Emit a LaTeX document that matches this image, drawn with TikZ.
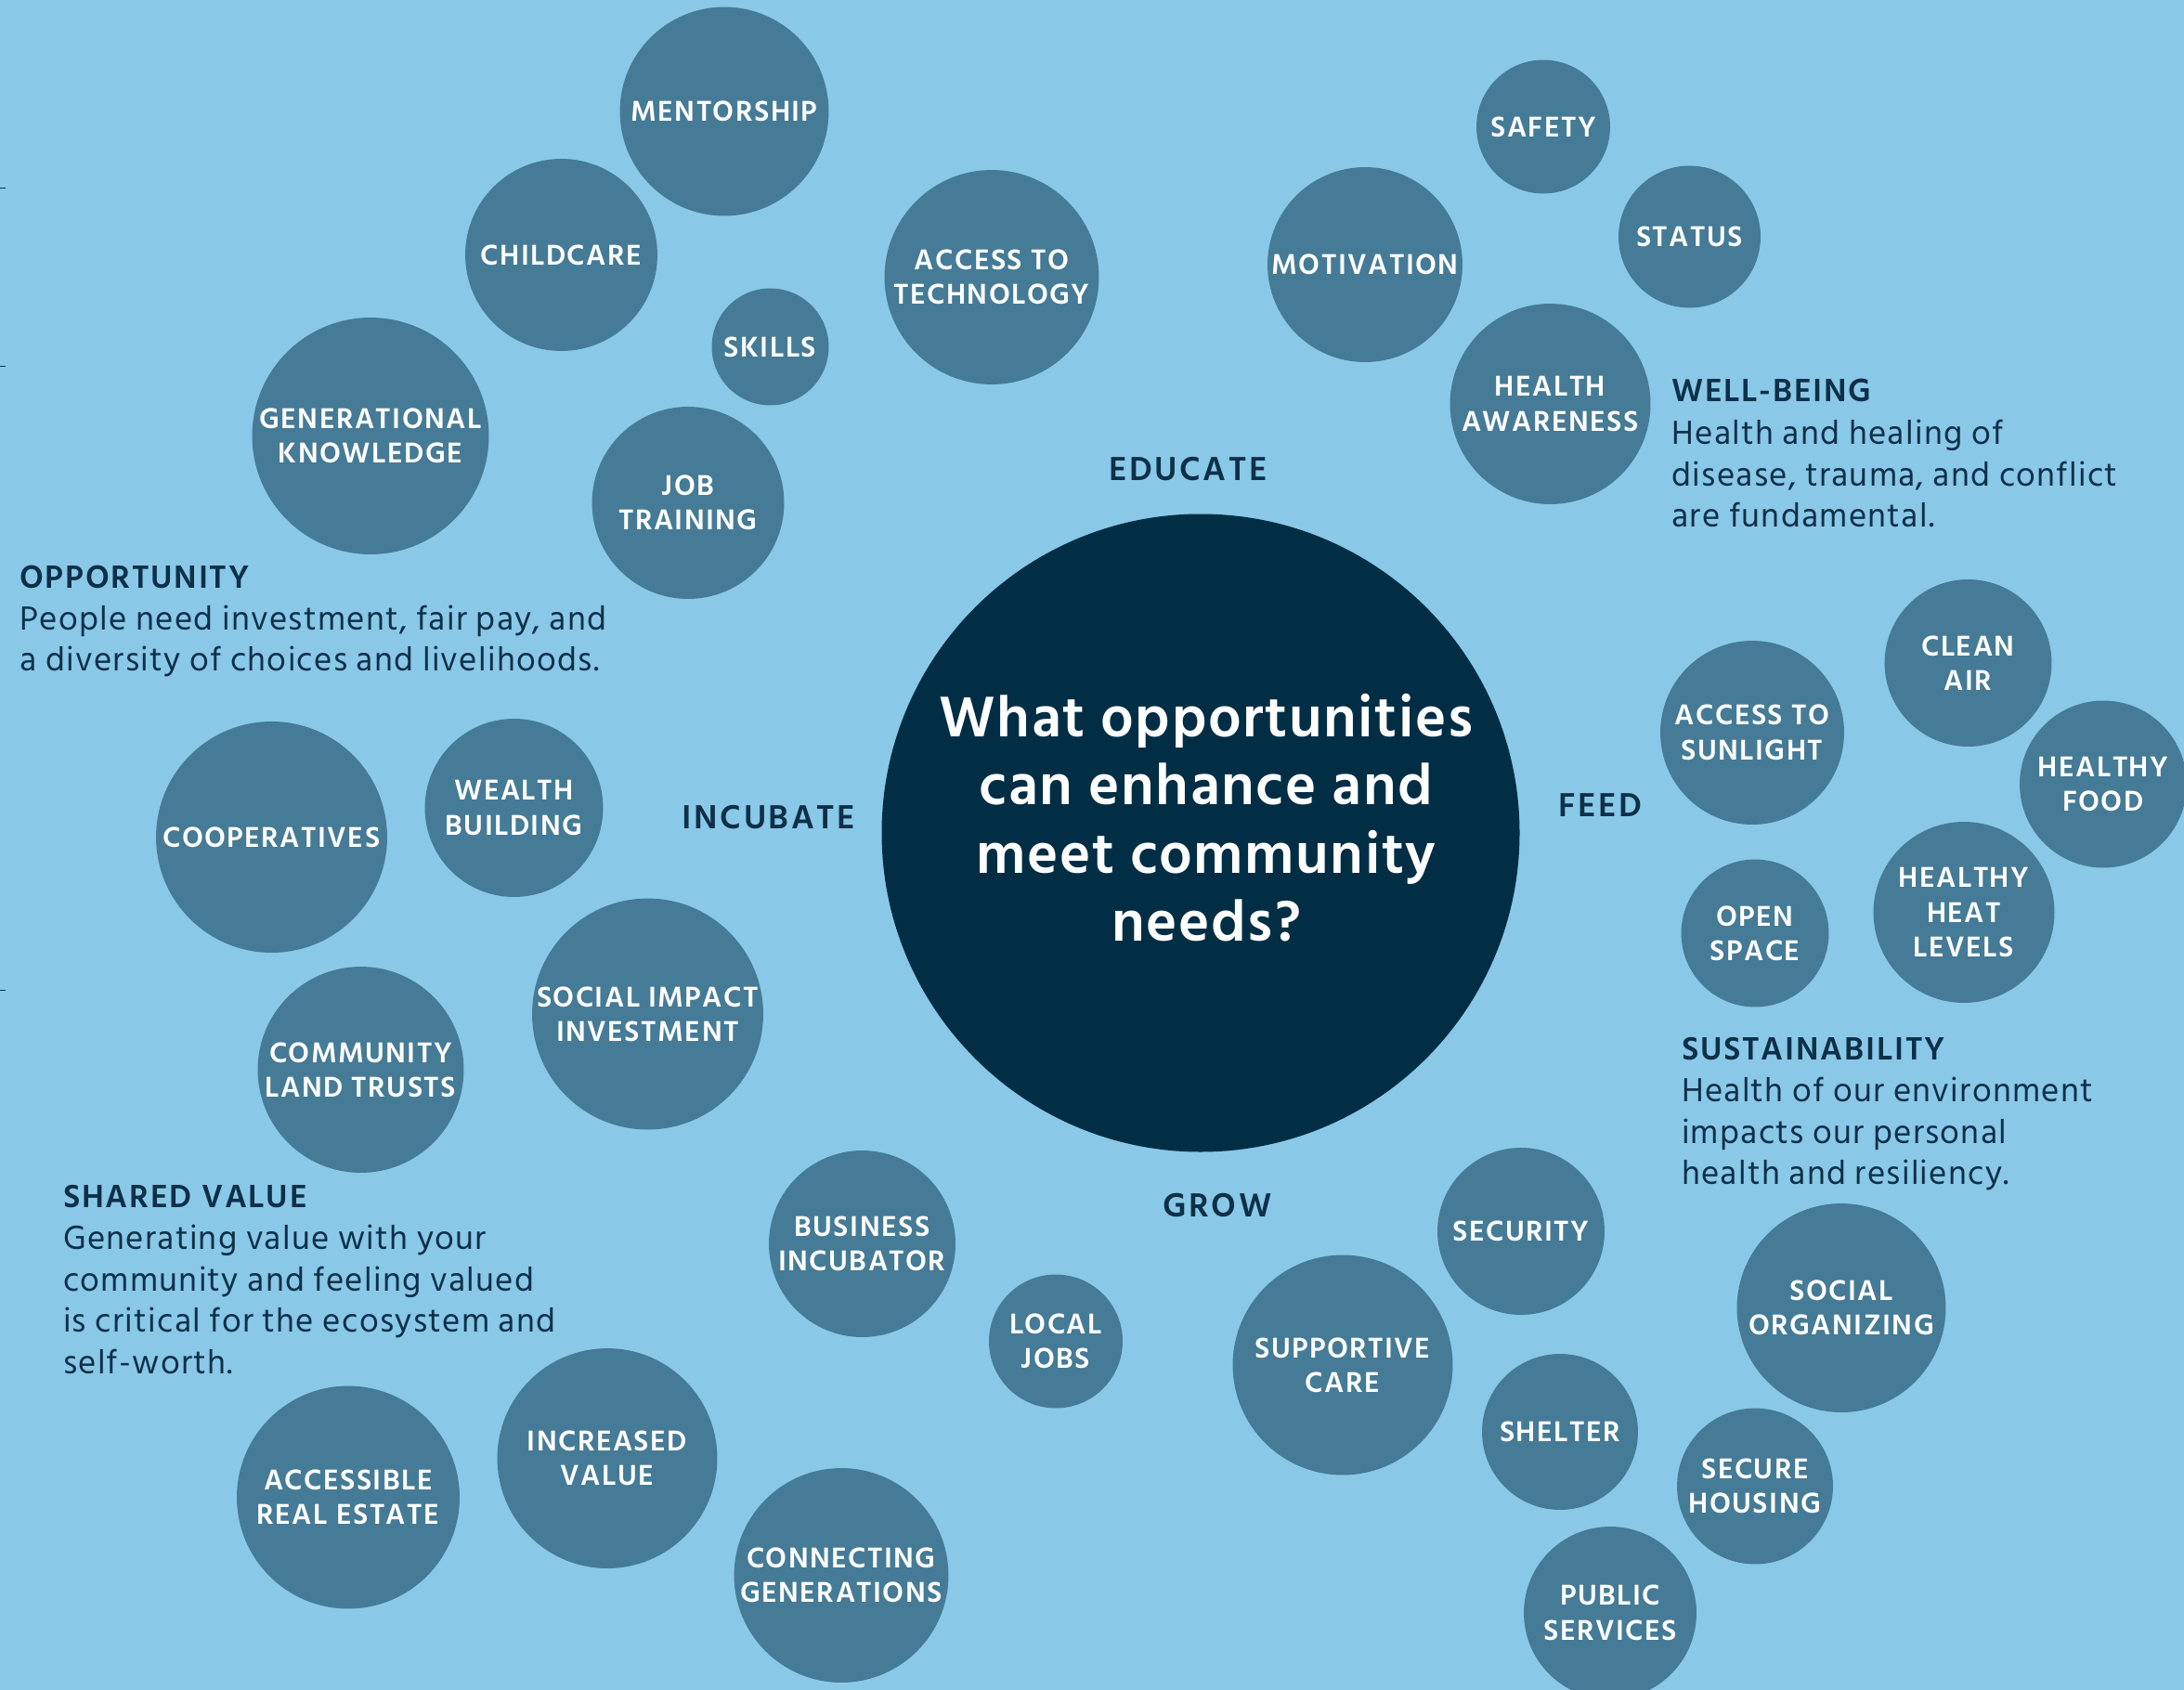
\documentclass[tikz,border=0pt]{standalone}
\usepackage{fontspec}
\setmainfont{Hind Siliguri}[BoldFont={Hind Siliguri SemiBold}]
\newfontfamily\bubblefont{Hind Siliguri SemiBold}[LetterSpace=4.5]
\newfontfamily\ringfont{Hind Siliguri SemiBold}[LetterSpace=7]
\newfontfamily\headfont{Hind Siliguri SemiBold}[LetterSpace=5]
\newfontfamily\notefont{Hind Siliguri}[LetterSpace=3.5]
\newfontfamily\questionfont{Hind Siliguri SemiBold}[LetterSpace=2.5]

\definecolor{skybg}{HTML}{8AC8E7}
\definecolor{bubblefill}{HTML}{457B96}
\definecolor{hubfill}{HTML}{012E45}
\definecolor{ink}{HTML}{0D3049}

\tikzset{
  bubble/.style={circle, fill=bubblefill, text=white, align=center, inner sep=0pt,
    font=\bubblefont\fontsize{12}{14.2}\selectfont, minimum size=#1*0.04cm},
  ringlabel/.style={text=ink, font=\ringfont\fontsize{14}{16}\selectfont},
  sechead/.style={anchor=west, inner sep=0pt, text=ink, font=\headfont\fontsize{13.5}{16}\selectfont},
  secbody/.style={anchor=north west, inner sep=0pt, align=left, text=ink,
    font=\notefont\fontsize{14}{16.9}\selectfont}
}

\begin{document}
\begin{tikzpicture}[x=0.02cm, y=-0.02cm]
% Background
\fill[skybg] (0,0) rectangle (1568,1213);
\useasboundingbox (0,0) rectangle (1568,1213);

% Little ticks on the left edge
\foreach \ty in {135,263,711}
  \draw[ink, line width=0.6pt] (0,\ty) -- (4,\ty);

% Central question
\node[circle, fill=hubfill, minimum size=458*0.02cm, inner sep=0pt] (hub) at (862,598) {};
\node[text=white, align=center, font=\questionfont\fontsize{24}{27.9}\selectfont] (question) at (866,587)
  {What opportunities\\can enhance and\\meet community\\needs?};

% Ring labels
\node[ringlabel] (educate) at (853,337) {EDUCATE};
\node[ringlabel] (incubate) at (552,587) {INCUBATE};
\node[ringlabel] (feed) at (1149,578) {FEED};
\node[ringlabel] (grow) at (874,865) {GROW};

% Educate
\node[bubble=75] (mentor) at (520,80) {MENTORSHIP};
\node[bubble=69] (childcare) at (403,183) {CHILDCARE};
\node[bubble=77] (techaccess) at (712,199) {ACCESS TO\\TECHNOLOGY};
\node[bubble=42] (skills) at (553,249) {SKILLS};
\node[bubble=85] (genknow) at (266,313) {GENERATIONAL\\KNOWLEDGE};
\node[bubble=69] (jobtrain) at (494,361) {JOB\\TRAINING};

% Well-being
\node[bubble=70] (motivation) at (980,190) {MOTIVATION};
\node[bubble=48] (safety) at (1108,91) {SAFETY};
\node[bubble=51] (status) at (1213,170) {STATUS};
\node[bubble=72] (healthaware) at (1113,290) {HEALTH\\AWARENESS};

% Feed
\node[bubble=60] (cleanair) at (1413,476) {CLEAN\\AIR};
\node[bubble=66] (sunlight) at (1258,526) {ACCESS TO\\SUNLIGHT};
\node[bubble=60] (food) at (1510,563) {HEALTHY\\FOOD};
\node[bubble=53] (openspace) at (1260,670) {OPEN\\SPACE};
\node[bubble=65] (heat) at (1410,655) {HEALTHY\\HEAT\\LEVELS};

% Incubate
\node[bubble=83] (coops) at (195,601) {COOPERATIVES};
\node[bubble=64] (wealth) at (369,580) {WEALTH\\BUILDING};
\node[bubble=83] (impact) at (465,728) {SOCIAL IMPACT\\INVESTMENT};
\node[bubble=74] (landtrust) at (259,768) {COMMUNITY\\LAND TRUSTS};

% Grow
\node[bubble=67] (incubator) at (619,893) {BUSINESS\\INCUBATOR};
\node[bubble=48] (localjobs) at (758,963) {LOCAL\\JOBS};
\node[bubble=79] (incvalue) at (436,1047) {INCREASED\\VALUE};
\node[bubble=80] (realestate) at (250,1075) {ACCESSIBLE\\REAL ESTATE};
\node[bubble=77] (connectgen) at (604,1131) {CONNECTING\\GENERATIONS};
\node[bubble=60] (security) at (1092,884) {SECURITY};
\node[bubble=79] (suppcare) at (964,980) {SUPPORTIVE\\CARE};
\node[bubble=75] (organizing) at (1322,939) {SOCIAL\\ORGANIZING};
\node[bubble=56] (shelter) at (1120,1028) {SHELTER};
\node[bubble=56] (housing) at (1260,1067) {SECURE\\HOUSING};
\node[bubble=62] (services) at (1156,1158) {PUBLIC\\SERVICES};

% Section notes
\node[sechead] (wellhead) at (1200,280) {WELL-BEING};
\node[secbody] (wellbody) at (1200,301)
  {Health and healing of\\disease, trauma, and conflict\\are fundamental.};

\node[sechead] (opphead) at (14,414) {OPPORTUNITY};
\node[secbody] (oppbody) at (14,434)
  {People need investment, fair pay, and\\a diversity of choices and livelihoods.};

\node[sechead] (sushead) at (1207,753) {SUSTAINABILITY};
\node[secbody] (susbody) at (1207,773)
  {Health of our environment\\impacts our personal\\health and resiliency.};

\node[sechead] (sharedhead) at (45,859) {SHARED VALUE};
\node[secbody] (sharedbody) at (45,879)
  {Generating value with your\\community and feeling valued\\is critical for the ecosystem and\\self-worth.};

\end{tikzpicture}
\end{document}
